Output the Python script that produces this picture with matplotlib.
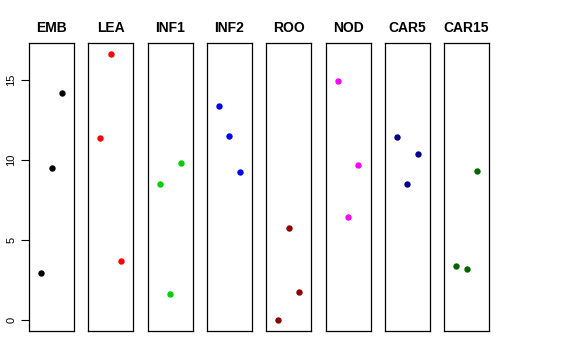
import matplotlib
matplotlib.use('Agg')
import matplotlib.pyplot as plt
import numpy as np

plt.rcParams['font.family'] = ['Liberation Sans', 'DejaVu Sans']

# panel names and colours
groups = ['EMB', 'LEA', 'INF1', 'INF2', 'ROO', 'NOD', 'CAR5', 'CAR15']
colors = ['black', 'red', '#00CD00', 'blue', '#8B0000', 'magenta', '#00008B', '#006400']

# three points per panel, x = 1, 2, 3
emb = [2.97, 9.51, 14.16]
lea = [11.34, 16.61, 3.69]
inf1 = [8.51, 1.66, 9.78]
inf2 = [13.37, 11.50, 9.24]
roo = [0.0, 5.77, 1.74]
nod = [14.93, 6.46, 9.66]
car5 = [11.42, 8.49, 10.36]
car15 = [3.38, 3.20, 9.30]
values = [emb, lea, inf1, inf2, roo, nod, car5, car15]

yticks = [0, 5, 10, 15]

W, H = 576, 360
fig = plt.figure(figsize=(W / 100, H / 100), dpi=100)

ymin, ymax = 0.0, 16.61
pad = (ymax - ymin) * 0.04

left0 = 29
width = 45
step = 59.3
top, bottom = 43, 331

for i, (name, vals, col) in enumerate(zip(groups, values, colors)):
    x0 = left0 + i * step
    ax = fig.add_axes([x0 / W, 1 - bottom / H, width / W, (bottom - top) / H])
    ax.plot([1, 2, 3], vals, 'o', color=col, ms=4.6, mec='none')
    ax.set_xlim(-0.16, 4.16)
    ax.set_ylim(ymin - pad, ymax + pad)
    ax.set_xticks([])
    for s in ax.spines.values():
        s.set_linewidth(0.9)
        s.set_color('black')
    ax.set_title(name, fontsize=10, fontweight='bold', pad=8)
    if i == 0:
        ax.set_yticks(yticks)
        ax.set_yticklabels([str(t) for t in yticks], rotation=90, va='center', fontsize=8)
        ax.tick_params(axis='y', length=6, width=0.8, pad=3)
    else:
        ax.set_yticks([])

plt.savefig('out.png', dpi=100)
